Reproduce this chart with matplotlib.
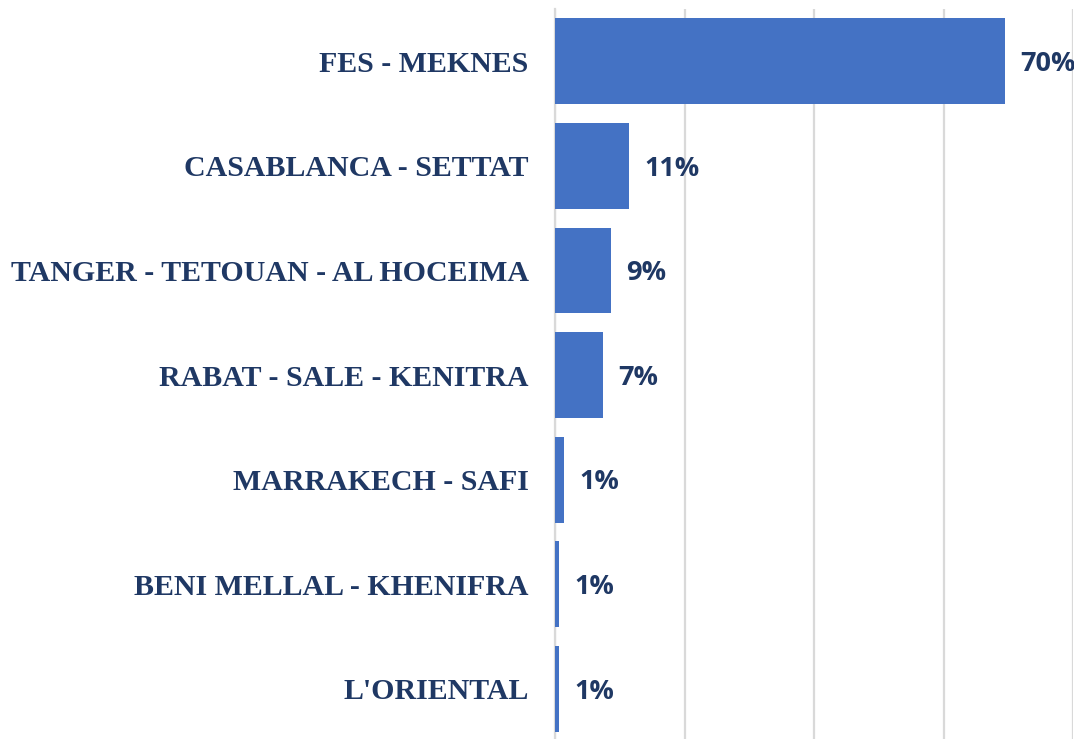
import matplotlib
matplotlib.use("Agg")
import matplotlib.pyplot as plt

regions = ["FES - MEKNES", "CASABLANCA - SETTAT", "TANGER - TETOUAN - AL HOCEIMA",
           "RABAT - SALE - KENITRA", "MARRAKECH - SAFI", "BENI MELLAL - KHENIFRA",
           "L'ORIENTAL"]
shares = [0.695, 0.114, 0.086, 0.074, 0.014, 0.006, 0.006]
share_labels = ["70%", "11%", "9%", "7%", "1%", "1%", "1%"]
grid_ticks = [0, 0.2, 0.4, 0.6, 0.8]

NAVY = "#1F3864"
BAR = "#4472C4"
GRID = "#D9D9D9"

fig = plt.figure(figsize=(10.74, 7.39), dpi=100)
ax = fig.add_axes([555 / 1074, -0.003, 518 / 1074, 0.991])

y = list(range(len(regions)))
ax.barh(y, shares, height=0.82, color=BAR, zorder=3)
ax.set_ylim(len(regions) - 0.5, -0.5)
ax.set_xlim(0, 0.8)

ax.set_xticks(grid_ticks)
ax.set_xticklabels([])
ax.tick_params(axis="x", length=0)
ax.grid(axis="x", color=GRID, linewidth=1.6, zorder=0)
ax.set_axisbelow(True)

ax.set_yticks(y)
ax.set_yticklabels(regions, fontfamily="Liberation Serif", fontweight="bold",
                   fontsize=21.5, color=NAVY)
ax.tick_params(axis="y", length=0, pad=19)

for s in ["top", "right", "bottom"]:
    ax.spines[s].set_visible(False)
ax.spines["left"].set_color(GRID)
ax.spines["left"].set_linewidth(1.6)

for yi, v, lab in zip(y, shares, share_labels):
    ax.annotate(lab, xy=(v, yi), xytext=(11, -2), textcoords="offset points",
                ha="left", va="center", fontfamily="Open Sans", fontweight="bold",
                fontsize=19.5, color=NAVY, annotation_clip=False)

fig.savefig("out.png", dpi=100)
